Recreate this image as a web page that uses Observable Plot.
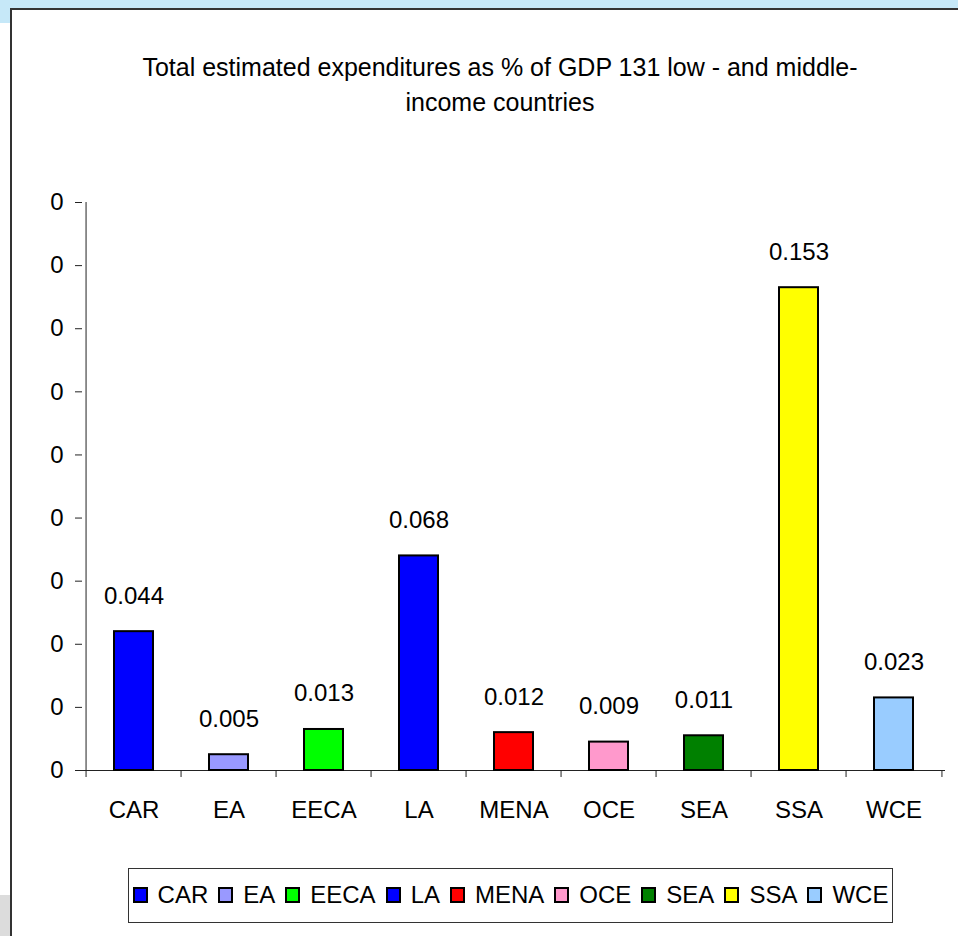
<!DOCTYPE html>
<html>
<head>
<meta charset="utf-8">
<script src="https://cdn.jsdelivr.net/npm/d3@7"></script>
<script src="https://cdn.jsdelivr.net/npm/@observablehq/plot@0.6"></script>
<style>
  html, body { margin: 0; padding: 0; background: #fff; }
  body { width: 958px; height: 936px; position: relative; overflow: hidden; font-family: "Liberation Sans", Arial, sans-serif; }
  #topstrip { position: absolute; left: 0; top: 0; width: 958px; height: 8px; background: #c6e8f8; }
  #leftstrip { position: absolute; left: 0; top: 0; width: 10px; height: 23px; background: #c6e8f8; }
  #greystrip { position: absolute; left: 0; top: 895px; width: 10px; height: 41px; background: #dcdcdc; }
  #panel { position: absolute; left: 10px; top: 8px; width: 960px; height: 940px; border-top: 2px solid #333; border-left: 2px solid #333; box-sizing: border-box; }
  #chart { position: absolute; left: 0; top: 0; }
  #title { position: absolute; left: 100px; width: 800px; top: 50px; text-align: center; font-size: 25px; line-height: 35px; color: #000; }
  #legend { position: absolute; left: 128px; top: 868px; width: 765px; height: 55px; box-sizing: border-box; border: 1px solid #333; background: #fff; display: flex; align-items: center; justify-content: center; font-size: 24px; color: #000; padding-bottom: 2px; }
  .item { display: flex; align-items: center; margin-right: 10px; }
  .item:last-child { margin-right: 0; }
  .sw { width: 11px; height: 12px; border: 2px solid #000; margin-right: 10px; }
</style>
</head>
<body>
<div id="topstrip"></div>
<div id="leftstrip"></div>
<div id="greystrip"></div>
<div id="panel"></div>
<div id="chart"></div>
<div id="title">Total estimated expenditures as % of GDP 131 low - and middle-<br>income countries</div>
<div id="legend"></div>
<script>
const categories = ["CAR", "EA", "EECA", "LA", "MENA", "OCE", "SEA", "SSA", "WCE"];
const values = [0.044, 0.005, 0.013, 0.068, 0.012, 0.009, 0.011, 0.153, 0.023];
const colors = ["#0000ff", "#9999ff", "#00ff00", "#0000ff", "#ff0000", "#ff99cc", "#008000", "#ffff00", "#99ccff"];
const yTicks = [0, 0.02, 0.04, 0.06, 0.08, 0.10, 0.12, 0.14, 0.16, 0.18];

const data = categories.map((c, i) => ({cat: c, value: values[i]}));

const W = 958, H = 860, mL = 82, mR = 13, mT = 202, mB = 90;
const bw = (W - mL - mR) / categories.length;
const font = "Liberation Sans, Arial, sans-serif";

const chart = Plot.plot({
  width: W,
  height: H,
  marginLeft: mL,
  marginRight: mR,
  marginTop: mT,
  marginBottom: mB,
  style: {background: "transparent", fontFamily: font, fontSize: "24px", color: "#000", overflow: "visible"},
  x: {domain: categories, padding: 0, axis: null, label: null},
  y: {domain: [0, 0.18], axis: null, label: null},
  color: {domain: categories, range: colors},
  marks: [
    // y axis
    Plot.axisY({ticks: yTicks, tickFormat: d => d3.format(".0f")(d), tickSize: 7, tickPadding: 12, fontSize: 24, stroke: "#222", label: null}),
    Plot.ruleX([categories[0]], {dx: -bw / 2, stroke: "#222", strokeWidth: 1}),
    // x axis baseline
    Plot.ruleY([0], {stroke: "#222", strokeWidth: 1}),
    // boundary ticks
    Plot.axisX({ticks: categories, tickSize: 7, tickFormat: () => "", dx: -bw / 2, stroke: "#222", label: null}),
    Plot.axisX({ticks: [categories[categories.length - 1]], tickSize: 7, tickFormat: () => "", dx: bw / 2, stroke: "#222", label: null}),
    // x labels
    Plot.axisX({ticks: categories, tickSize: 0, tickPadding: 30, fontSize: 24, label: null}),
    // bars
    Plot.barY(data, {x: "cat", y: "value", fill: "cat", stroke: "#000", strokeWidth: 2, insetLeft: 28, insetRight: 28}),
    // value labels
    Plot.text(data, {x: "cat", y: "value", text: d => d3.format(".3f")(d.value), lineAnchor: "bottom", dy: -28, fontSize: 24, fill: "#000"})
  ]
});
document.getElementById("chart").appendChild(chart);

const legend = document.getElementById("legend");
categories.forEach((c, i) => {
  const item = document.createElement("div");
  item.className = "item";
  const sw = document.createElement("div");
  sw.className = "sw";
  sw.style.background = colors[i];
  const t = document.createElement("span");
  t.textContent = c;
  item.appendChild(sw);
  item.appendChild(t);
  legend.appendChild(item);
});
</script>
</body>
</html>
